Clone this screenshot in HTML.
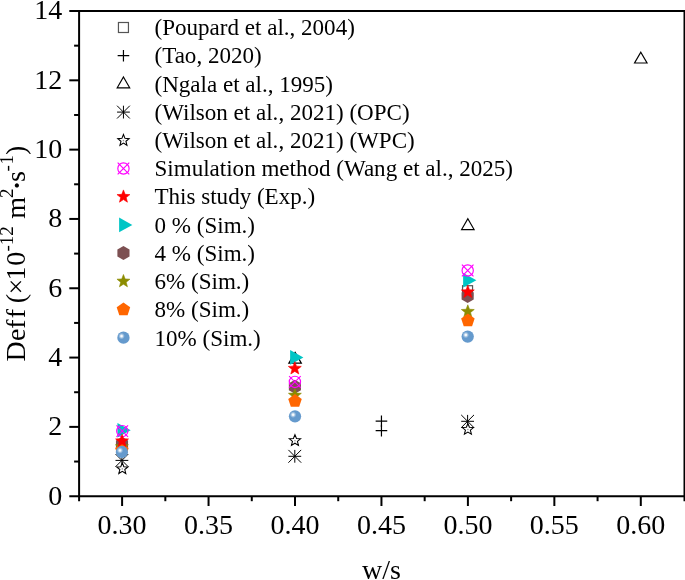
<!DOCTYPE html>
<html><head><meta charset="utf-8"><title>Deff vs w/s</title>
<style>html,body{margin:0;padding:0;background:#fff;overflow:hidden}svg{display:block}text{font-family:"Liberation Serif","Times New Roman",Times,serif;fill:#000}</style></head><body>
<svg width="685" height="580" viewBox="0 0 685 580">
<rect width="685" height="580" fill="#fff"/>
<defs><radialGradient id="ball" cx="0.5" cy="0.5" r="0.5"><stop offset="0" stop-color="#fff" stop-opacity="1"/><stop offset="0.25" stop-color="#fff" stop-opacity="0.92"/><stop offset="0.6" stop-color="#fff" stop-opacity="0.38"/><stop offset="1" stop-color="#fff" stop-opacity="0"/></radialGradient></defs>
<g stroke="#000" stroke-width="2" fill="none">
<path d="M69.3 11.0H685.5"/>
<path d="M79.1 11.0V501.2"/>
<path d="M69.3 496.2H685.5"/>
<path d="M684.5 10.0V501.2"/>
<path d="M74.1 461.54H79.1"/>
<path d="M69.3 426.89H79.1"/>
<path d="M74.1 392.23H79.1"/>
<path d="M69.3 357.57H79.1"/>
<path d="M74.1 322.92H79.1"/>
<path d="M69.3 288.26H79.1"/>
<path d="M74.1 253.60H79.1"/>
<path d="M69.3 218.94H79.1"/>
<path d="M74.1 184.29H79.1"/>
<path d="M69.3 149.63H79.1"/>
<path d="M74.1 114.97H79.1"/>
<path d="M69.3 80.32H79.1"/>
<path d="M74.1 45.66H79.1"/>
<path d="M122.10 496.2V506.0"/>
<path d="M165.33 496.2V501.2"/>
<path d="M208.55 496.2V506.0"/>
<path d="M251.78 496.2V501.2"/>
<path d="M295.00 496.2V506.0"/>
<path d="M338.23 496.2V501.2"/>
<path d="M381.45 496.2V506.0"/>
<path d="M424.67 496.2V501.2"/>
<path d="M467.90 496.2V506.0"/>
<path d="M511.12 496.2V501.2"/>
<path d="M554.35 496.2V506.0"/>
<path d="M597.57 496.2V501.2"/>
<path d="M640.80 496.2V506.0"/>
</g>
<text x="62.3" y="504.50" font-size="28" text-anchor="end">0</text>
<text x="62.3" y="435.19" font-size="28" text-anchor="end">2</text>
<text x="62.3" y="365.87" font-size="28" text-anchor="end">4</text>
<text x="62.3" y="296.56" font-size="28" text-anchor="end">6</text>
<text x="62.3" y="227.24" font-size="28" text-anchor="end">8</text>
<text x="62.3" y="157.93" font-size="28" text-anchor="end">10</text>
<text x="62.3" y="88.62" font-size="28" text-anchor="end">12</text>
<text x="62.3" y="19.30" font-size="28" text-anchor="end">14</text>
<text x="122.10" y="534.3" font-size="28" text-anchor="middle">0.30</text>
<text x="208.55" y="534.3" font-size="28" text-anchor="middle">0.35</text>
<text x="295.00" y="534.3" font-size="28" text-anchor="middle">0.40</text>
<text x="381.45" y="534.3" font-size="28" text-anchor="middle">0.45</text>
<text x="467.90" y="534.3" font-size="28" text-anchor="middle">0.50</text>
<text x="554.35" y="534.3" font-size="28" text-anchor="middle">0.55</text>
<text x="640.80" y="534.3" font-size="28" text-anchor="middle">0.60</text>
<text x="381.4" y="579.1" font-size="28" text-anchor="middle">w/s</text>
<text transform="translate(24.6,361.5) rotate(-90)" font-size="28"><tspan x="0.00 20.58 32.84 43.30 52.60 58.20 66.90 80.90 95.85" y="0">Deff (×10</tspan><tspan font-size="19" x="110.10 116.30 125.80" y="-11.7">-12</tspan><tspan x="135.10 142.70" y="0"> m</tspan><tspan font-size="19" x="163.5" y="-11.7">2</tspan><tspan font-size="35" x="170.3" y="4">·</tspan><tspan x="179.4" y="0">s</tspan><tspan font-size="19" x="189.90 197.10" y="-11.7">-1</tspan><tspan x="206.4" y="0">)</tspan></text>
<rect x="118.45" y="22.50" width="10" height="10" fill="none" stroke="#555" stroke-width="1.2"/>
<text x="154.5" y="35.05" font-size="23.05">(Poupard et al., 2004)</text>
<path d="M117.65 55.70H129.25M123.45 49.90V61.50" stroke="#000" stroke-width="1.2" fill="none"/>
<text x="154.5" y="63.29" font-size="23.05">(Tao, 2020)</text>
<polygon points="123.45,77.00 129.69,87.80 117.21,87.80" fill="none" stroke="#000" stroke-width="1.2"/>
<text x="154.5" y="91.53" font-size="23.05">(Ngala et al., 1995)</text>
<path d="M117.05 112.10H129.85M123.45 105.70V118.50M117.05 105.70L129.85 118.50M117.05 118.50L129.85 105.70" stroke="#000" stroke-width="1" fill="none"/>
<text x="154.5" y="119.77" font-size="23.05">(Wilson et al., 2021) (OPC)</text>
<polygon points="123.45,134.50 124.98,138.35 129.11,138.61 125.92,141.25 126.95,145.26 123.45,143.05 119.95,145.26 120.98,141.25 117.79,138.61 121.92,138.35" fill="#fff" stroke="#000" stroke-width="1.05" stroke-linejoin="miter" stroke-miterlimit="3"/><circle cx="123.45" cy="140.60" r="0.8" fill="#999"/>
<text x="154.5" y="148.01" font-size="23.05">(Wilson et al., 2021) (WPC)</text>
<g stroke="#ff00ff" stroke-width="1.15" fill="none"><circle cx="123.45" cy="168.50" r="5.65"/><path d="M117.65 162.70L129.25 174.30M117.65 174.30L129.25 162.70"/></g>
<text x="154.5" y="176.25" font-size="23.05">Simulation method (Wang et al., 2025)</text>
<polygon points="123.45,189.90 125.15,194.35 129.92,194.60 126.21,197.60 127.45,202.20 123.45,199.60 119.45,202.20 120.69,197.60 116.98,194.60 121.75,194.35" fill="#ff0000" stroke="#ff0000" stroke-width="0.6"/>
<text x="154.5" y="204.49" font-size="23.05">This study (Exp.)</text>
<polygon points="119.10,217.60 132.35,224.90 119.10,232.20" fill="#00c5c5"/>
<text x="154.5" y="232.73" font-size="23.05">0 % (Sim.)</text>
<polygon points="123.45,246.10 129.51,249.60 129.51,256.60 123.45,260.10 117.39,256.60 117.39,249.60" fill="#7d5052"/>
<text x="154.5" y="260.97" font-size="23.05">4 % (Sim.)</text>
<polygon points="123.45,274.50 125.15,278.95 129.92,279.20 126.21,282.20 127.45,286.80 123.45,284.20 119.45,286.80 120.69,282.20 116.98,279.20 121.75,278.95" fill="#8c8c00" stroke="#8c8c00" stroke-width="0.6"/>
<text x="154.5" y="289.21" font-size="23.05">6% (Sim.)</text>
<polygon points="123.45,302.40 130.20,307.31 127.62,315.24 119.28,315.24 116.70,307.31" fill="#ff6600"/>
<text x="154.5" y="317.45" font-size="23.05">8% (Sim.)</text>
<circle cx="123.45" cy="337.70" r="6.15" fill="#659acd"/><circle cx="121.55" cy="336.10" r="3.3" fill="url(#ball)"/>
<text x="154.5" y="345.69" font-size="23.05">10% (Sim.)</text>
<rect x="462.55" y="285.70" width="10" height="10" fill="none" stroke="#555" stroke-width="1.2"/>
<path d="M375.65 421.20H387.25M381.45 415.40V427.00" stroke="#000" stroke-width="1.2" fill="none"/>
<path d="M375.65 430.60H387.25M381.45 424.80V436.40" stroke="#000" stroke-width="1.2" fill="none"/>
<polygon points="295.10,352.40 301.34,363.20 288.86,363.20" fill="none" stroke="#000" stroke-width="1.2"/>
<polygon points="467.85,218.75 474.09,229.55 461.61,229.55" fill="none" stroke="#000" stroke-width="1.2"/>
<polygon points="640.80,52.20 647.04,63.00 634.56,63.00" fill="none" stroke="#000" stroke-width="1.2"/>
<path d="M115.50 460.40H128.30M121.90 454.00V466.80M115.50 454.00L128.30 466.80M115.50 466.80L128.30 454.00" stroke="#000" stroke-width="1" fill="none"/>
<path d="M288.40 456.30H301.20M294.80 449.90V462.70M288.40 449.90L301.20 462.70M288.40 462.70L301.20 449.90" stroke="#000" stroke-width="1" fill="none"/>
<path d="M461.20 421.30H474.00M467.60 414.90V427.70M461.20 414.90L474.00 427.70M461.20 427.70L474.00 414.90" stroke="#000" stroke-width="1" fill="none"/>
<polygon points="122.30,462.80 123.83,466.65 127.96,466.91 124.77,469.55 125.80,473.56 122.30,471.35 118.80,473.56 119.83,469.55 116.64,466.91 120.77,466.65" fill="#fff" stroke="#000" stroke-width="1.05" stroke-linejoin="miter" stroke-miterlimit="3"/><circle cx="122.30" cy="468.90" r="0.8" fill="#999"/>
<polygon points="294.95,434.65 296.48,438.50 300.61,438.76 297.42,441.40 298.45,445.41 294.95,443.20 291.45,445.41 292.48,441.40 289.29,438.76 293.42,438.50" fill="#fff" stroke="#000" stroke-width="1.05" stroke-linejoin="miter" stroke-miterlimit="3"/><circle cx="294.95" cy="440.75" r="0.8" fill="#999"/>
<polygon points="467.90,423.45 469.43,427.30 473.56,427.56 470.37,430.20 471.40,434.21 467.90,432.00 464.40,434.21 465.43,430.20 462.24,427.56 466.37,427.30" fill="#fff" stroke="#000" stroke-width="1.05" stroke-linejoin="miter" stroke-miterlimit="3"/><circle cx="467.90" cy="429.55" r="0.8" fill="#999"/>
<polygon points="117.45,423.00 130.70,430.30 117.45,437.60" fill="#00c5c5"/>
<polygon points="290.15,350.10 303.40,357.40 290.15,364.70" fill="#00c5c5"/>
<polygon points="463.15,273.00 476.40,280.30 463.15,287.60" fill="#00c5c5"/>
<polygon points="122.00,437.00 128.06,440.50 128.06,447.50 122.00,451.00 115.94,447.50 115.94,440.50" fill="#7d5052"/>
<polygon points="294.90,379.70 300.96,383.20 300.96,390.20 294.90,393.70 288.84,390.20 288.84,383.20" fill="#7d5052"/>
<polygon points="467.65,289.10 473.71,292.60 473.71,299.60 467.65,303.10 461.59,299.60 461.59,292.60" fill="#7d5052"/>
<polygon points="121.90,440.10 123.60,444.55 128.37,444.80 124.66,447.80 125.90,452.40 121.90,449.80 117.90,452.40 119.14,447.80 115.43,444.80 120.20,444.55" fill="#8c8c00" stroke="#8c8c00" stroke-width="0.6"/>
<polygon points="294.90,388.60 296.60,393.05 301.37,393.30 297.66,396.30 298.90,400.90 294.90,398.30 290.90,400.90 292.14,396.30 288.43,393.30 293.20,393.05" fill="#8c8c00" stroke="#8c8c00" stroke-width="0.6"/>
<polygon points="467.80,304.80 469.50,309.25 474.27,309.50 470.56,312.50 471.80,317.10 467.80,314.50 463.80,317.10 465.04,312.50 461.33,309.50 466.10,309.25" fill="#8c8c00" stroke="#8c8c00" stroke-width="0.6"/>
<polygon points="121.90,443.10 128.65,448.01 126.07,455.94 117.73,455.94 115.15,448.01" fill="#ff6600"/>
<polygon points="295.00,394.00 301.75,398.91 299.17,406.84 290.83,406.84 288.25,398.91" fill="#ff6600"/>
<polygon points="467.90,313.50 474.65,318.41 472.07,326.34 463.73,326.34 461.15,318.41" fill="#ff6600"/>
<g stroke="#ff00ff" stroke-width="1.15" fill="none"><circle cx="122.25" cy="431.10" r="5.65"/><path d="M116.45 425.30L128.05 436.90M116.45 436.90L128.05 425.30"/></g>
<g stroke="#ff00ff" stroke-width="1.15" fill="none"><circle cx="294.90" cy="381.90" r="5.65"/><path d="M289.10 376.10L300.70 387.70M289.10 387.70L300.70 376.10"/></g>
<g stroke="#ff00ff" stroke-width="1.15" fill="none"><circle cx="467.70" cy="270.50" r="5.65"/><path d="M461.90 264.70L473.50 276.30M461.90 276.30L473.50 264.70"/></g>
<polygon points="122.05,434.20 123.75,438.65 128.52,438.90 124.81,441.90 126.05,446.50 122.05,443.90 118.05,446.50 119.29,441.90 115.58,438.90 120.35,438.65" fill="#ff0000" stroke="#ff0000" stroke-width="0.6"/>
<polygon points="294.80,361.70 296.50,366.15 301.27,366.40 297.56,369.40 298.80,374.00 294.80,371.40 290.80,374.00 292.04,369.40 288.33,366.40 293.10,366.15" fill="#ff0000" stroke="#ff0000" stroke-width="0.6"/>
<polygon points="467.80,285.20 469.50,289.65 474.27,289.90 470.56,292.90 471.80,297.50 467.80,294.90 463.80,297.50 465.04,292.90 461.33,289.90 466.10,289.65" fill="#ff0000" stroke="#ff0000" stroke-width="0.6"/>
<circle cx="121.90" cy="452.00" r="6.15" fill="#659acd"/><circle cx="120.00" cy="450.40" r="3.3" fill="url(#ball)"/>
<circle cx="295.00" cy="416.30" r="6.15" fill="#659acd"/><circle cx="293.10" cy="414.70" r="3.3" fill="url(#ball)"/>
<circle cx="467.70" cy="336.55" r="6.15" fill="#659acd"/><circle cx="465.80" cy="334.95" r="3.3" fill="url(#ball)"/>
</svg></body></html>
